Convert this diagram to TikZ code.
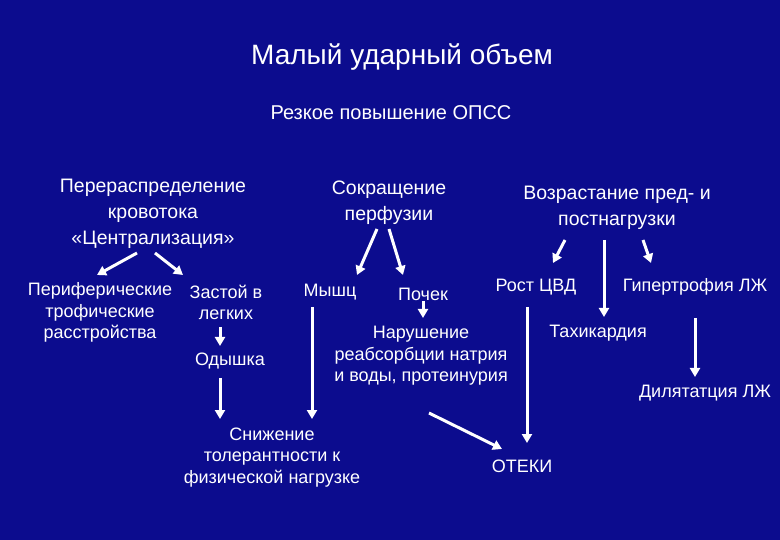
\documentclass[tikz,border=0pt]{standalone}
\usepackage{fontspec}
\setmainfont{Liberation Sans}
\usetikzlibrary{calc, arrows.meta}
\definecolor{slideblue}{RGB}{12,12,142}

\begin{document}
\begin{tikzpicture}[x=1pt, y=-1pt,
	every node/.style={text=white, inner sep=0pt, align=center},
	head/.style={font=\fontsize{19.5}{26}\selectfont},
	item/.style={font=\fontsize{18}{21.5}\selectfont},
	arr/.style={draw=white, line width=3pt, -{Triangle[length=9pt, width=10pt]}}]
	\fill[slideblue] (0,0) rectangle (780,540);
	\node[font=\fontsize{28}{32}\selectfont] (TITLE) at (402,57) {Малый ударный объем};
	\node[font=\fontsize{20}{24}\selectfont] (OPSS) at (391,113) {Резкое повышение ОПСС};
	% three main branches
	\node[head] (CEN) at (153,213.5) {Перераспределение\\кровотока\\«Централизация»};
	\node[head] (SOK) at (389,202.5) {Сокращение\\перфузии};
	\node[head] (VOZ) at (617,207.5) {Возрастание пред- и\\постнагрузки};
	% consequences
	\node[item] (PER) at (100,312.5) {Периферические\\трофические\\расстройства};
	\node[item] (ZAS) at (226,302.5) {Застой в\\легких};
	\node[item] (ODY) at (230,361) {Одышка};
	\node[item] (MYS) at (330,292) {Мышц};
	\node[item] (POC) at (423,294) {Почек};
	\node[item] (NAR) at (421,356) {Нарушение\\реабсорбции натрия\\и воды, протеинурия};
	\node[item] (ROS) at (536,287) {Рост ЦВД};
	\node[item] (GIP) at (695,287) {Гипертрофия ЛЖ};
	\node[item] (TAH) at (598,333) {Тахикардия};
	\node[item] (DIL) at (705,393) {Дилятатция ЛЖ};
	\node[item] (SNI) at (272,457.5) {Снижение\\толерантности к\\физической нагрузке};
	\node[item] (OTE) at (522,466) {ОТЕКИ};
	% arrows
	\draw[arr] ($(CEN)+(-16,39.5)$) -- ($(PER)+(-3,-37.5)$);
	\draw[arr] ($(CEN)+(2,39.5)$) -- ($(ZAS)+(-43,-27.5)$);
	\draw[arr] ($(ZAS)+(-6,24.5)$) -- ($(ODY)+(-10,-15)$);
	\draw[arr] ($(ODY)+(-10,17)$) -- ($(SNI)+(-52,-38.5)$);
	\draw[arr] ($(MYS)+(-18,15)$) -- ($(SNI)+(40,-38.5)$);
	\draw[arr] ($(SOK)+(-12,26.5)$) -- ($(MYS)+(27,-17)$);
	\draw[arr] ($(SOK)+(0,26.5)$) -- ($(POC)+(-20,-19)$);
	\draw[arr] ($(POC)+(0,7)$) -- ($(NAR)+(2,-38)$);
	\draw[arr] ($(NAR)+(8,57)$) -- ($(OTE)+(-20,-17)$);
	\draw[arr] ($(ROS)+(-9,20)$) -- ($(OTE)+(5,-23)$);
	\draw[arr] ($(VOZ)+(-52,32.5)$) -- ($(ROS)+(17,-24)$);
	\draw[arr] ($(VOZ)+(-13,32.5)$) -- ($(TAH)+(6,-16)$);
	\draw[arr] ($(VOZ)+(26,32.5)$) -- ($(GIP)+(-44,-24)$);
	\draw[arr] ($(GIP)+(0,31)$) -- ($(DIL)+(-10,-16)$);
\end{tikzpicture}
\end{document}
